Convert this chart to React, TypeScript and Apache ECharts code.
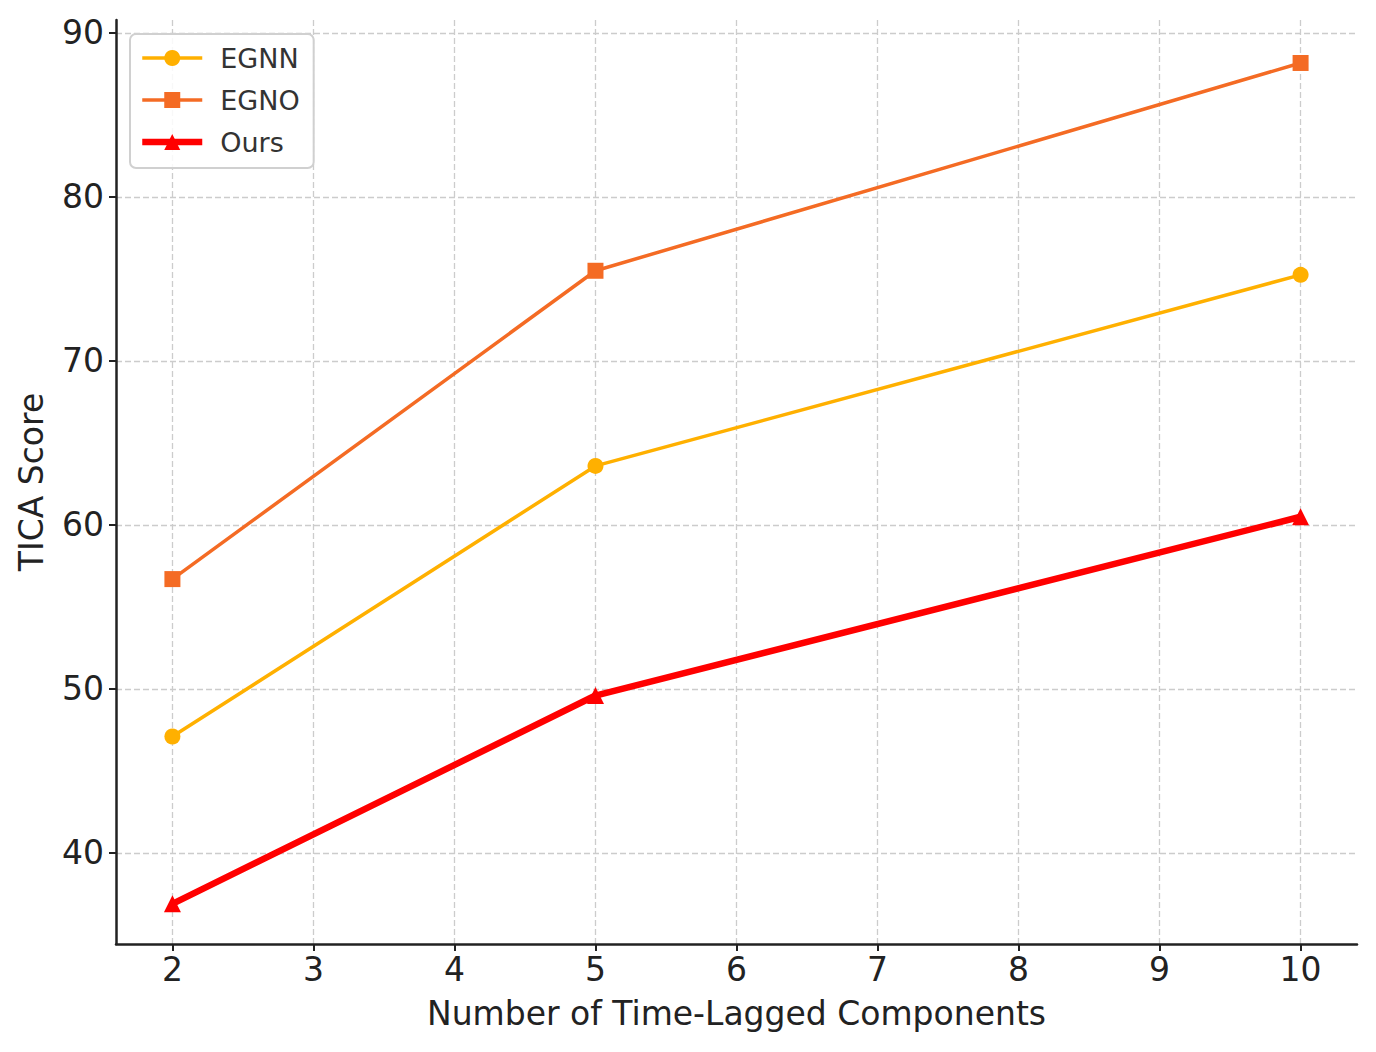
import React, { useEffect, useRef } from "react";
import * as echarts from "echarts";

const xValues = [2, 5, 10];
const egnnValues = [47.1, 63.6, 75.25];
const egnoValues = [56.7, 75.5, 88.17];
const oursValues = [36.9, 49.6, 60.5];
const xTicks = [2, 3, 4, 5, 6, 7, 8, 9, 10];
const yTicks = [40, 50, 60, 70, 80, 90];
const seriesNames = ["EGNN", "EGNO", "Ours"];
const seriesColors = ["#FFB000", "#F46B24", "#FF0000"];
const seriesWidths = [3.5, 3.5, 6.5];

const FONT = "DejaVu Sans";

export default function App() {
  const ref = useRef<HTMLDivElement>(null);
  useEffect(() => {
    if (!ref.current) return;
    const chart = echarts.init(ref.current, null, { renderer: "svg" });
    const pairs = (ys: number[]) => xValues.map((x, i) => [x, ys[i]]);
    const axisCommon = {
      type: "value" as const,
      axisLine: { show: true, lineStyle: { color: "#222", width: 2.5 } },
      axisTick: { show: true, length: 7, lineStyle: { color: "#222", width: 2 } },
      splitLine: {
        show: true,
        lineStyle: { color: "#cccccc", width: 1.3, type: [6, 3] as any },
      },
      nameTextStyle: { fontFamily: FONT, fontSize: 33, color: "#222" },
    };
    chart.setOption({
      animation: false,
      backgroundColor: "#ffffff",
      grid: { left: 116, top: 20, width: 1241, height: 924, containLabel: false },
      xAxis: {
        ...axisCommon,
        min: 1.6,
        max: 10.4,
        name: "Number of Time-Lagged Components",
        nameLocation: "middle",
        nameGap: 53,
        axisTick: { ...axisCommon.axisTick, customValues: xTicks },
        axisLabel: {
          customValues: xTicks,
          fontFamily: FONT,
          fontSize: 33,
          color: "#222",
          margin: 9,
        },
      },
      yAxis: {
        ...axisCommon,
        min: 34.45,
        max: 90.79,
        name: "TICA Score",
        nameLocation: "middle",
        nameGap: 68,
        axisTick: { ...axisCommon.axisTick, customValues: yTicks },
        axisLabel: {
          customValues: yTicks,
          fontFamily: FONT,
          fontSize: 33,
          color: "#222",
          margin: 12,
        },
      },
      legend: {
        orient: "vertical",
        left: 130,
        top: 34,
        data: seriesNames.map((name, i) => ({
          name,
          lineStyle: { width: seriesWidths[i], color: seriesColors[i] },
          itemStyle: { color: seriesColors[i] },
        })),
        itemWidth: 60,
        itemHeight: 20,
        itemGap: 10,
        padding: [8, 14, 10, 9],
        backgroundColor: "rgba(255,255,255,0.85)",
        borderColor: "#d0d0d0",
        borderWidth: 2,
        borderRadius: 6,
        textStyle: {
          fontFamily: FONT,
          fontSize: 27,
          color: "#333",
          lineHeight: 32,
          padding: [0, 0, 0, 13],
        },
      },
      series: [
        {
          name: seriesNames[0],
          type: "line",
          data: pairs(egnnValues),
          symbol: "circle",
          symbolSize: 16,
          color: seriesColors[0],
          lineStyle: { width: seriesWidths[0], color: seriesColors[0] },
          itemStyle: { color: seriesColors[0] },
          z: 3,
        },
        {
          name: seriesNames[1],
          type: "line",
          data: pairs(egnoValues),
          symbol: "rect",
          symbolSize: 16,
          color: seriesColors[1],
          lineStyle: { width: seriesWidths[1], color: seriesColors[1] },
          itemStyle: { color: seriesColors[1] },
          z: 3,
        },
        {
          name: seriesNames[2],
          type: "line",
          data: pairs(oursValues),
          symbol: "triangle",
          symbolSize: 17,
          color: seriesColors[2],
          lineStyle: { width: seriesWidths[2], color: seriesColors[2] },
          itemStyle: { color: seriesColors[2] },
          z: 4,
        },
      ],
    });
    return () => chart.dispose();
  }, []);
  return (
    <div
      ref={ref}
      style={{ position: "fixed", left: 0, top: 0, width: 1376, height: 1052 }}
    />
  );
}
